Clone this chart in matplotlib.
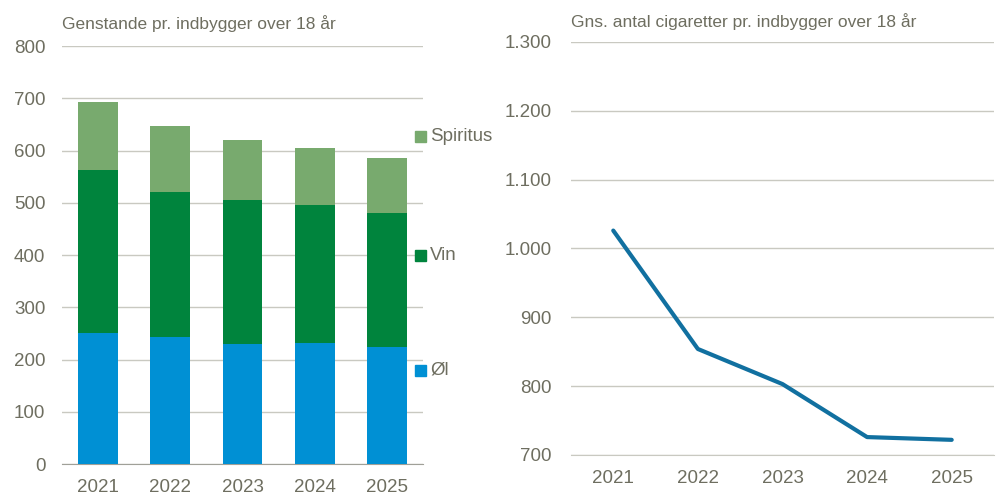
import matplotlib
matplotlib.use("Agg")
import matplotlib.pyplot as plt
from matplotlib.ticker import FuncFormatter, MultipleLocator

plt.rcParams['font.family'] = ['Liberation Sans', 'DejaVu Sans']

years = ["2021", "2022", "2023", "2024", "2025"]
ol = [251, 243, 230, 232, 224]
vin = [312, 278, 275, 264, 256]
spiritus = [129, 126, 115, 109, 106]
cigaretter = [1026, 854, 803, 726, 722]

TXT = '#6e6e60'
GRID = '#c9c9c1'
C_OL = '#0090d4'
C_VIN = '#00843d'
C_SPI = '#78aa6e'
C_LINE = '#1170a0'

TICK_FS = 13.5
TITLE_FS = 12.5

fig = plt.figure(figsize=(9.98, 4.96), dpi=100)

# Left chart
ax1 = fig.add_axes([0.0621, 0.0645, 0.3617, 0.8427])
x = range(len(years))
w = 0.55
ax1.bar(x, ol, width=w, color=C_OL, zorder=3)
bottom2 = [a for a in ol]
ax1.bar(x, vin, width=w, bottom=bottom2, color=C_VIN, zorder=3)
bottom3 = [a + b for a, b in zip(ol, vin)]
ax1.bar(x, spiritus, width=w, bottom=bottom3, color=C_SPI, zorder=3)
ax1.set_xlim(-0.5, 4.5)
ax1.set_ylim(0, 800)
ax1.yaxis.set_major_locator(MultipleLocator(100))
ax1.set_xticks(list(x))
ax1.set_xticklabels(years)
ax1.grid(axis='y', color=GRID, linewidth=1, zorder=0)
for s in ['top', 'right', 'left']:
    ax1.spines[s].set_visible(False)
ax1.spines['bottom'].set_color('#a0a098')
ax1.tick_params(axis='both', length=0, labelsize=TICK_FS, colors=TXT)
ax1.tick_params(axis='y', pad=12)
ax1.tick_params(axis='x', pad=10.5)
fig.text(0.0621, 0.952, "Genstande pr. indbygger over 18 år", fontsize=TITLE_FS,
         color=TXT, ha='left', va='center')

# legend entries
leg = [("Spiritus", C_SPI, 137), ("Vin", C_VIN, 255), ("Øl", C_OL, 370)]
for label, col, ypx in leg:
    yf = 1 - ypx / 496
    fig.patches.append(plt.Rectangle((415 / 998, yf - 5.5 / 496), 11 / 998, 11 / 496,
                                     transform=fig.transFigure, color=col, figure=fig))
    fig.text(430 / 998, yf, label, fontsize=TICK_FS, color=TXT, ha='left', va='center')

# Right chart
ax2 = fig.add_axes([0.5721, 0.0827, 0.4239, 0.8327])
ax2.plot(list(x), cigaretter, color=C_LINE, linewidth=3, solid_capstyle='round', zorder=3)
ax2.set_xlim(-0.5, 4.5)
ax2.set_ylim(700, 1300)
ax2.yaxis.set_major_locator(MultipleLocator(100))
ax2.yaxis.set_major_formatter(FuncFormatter(lambda v, p: f"{int(v):,}".replace(",", ".")))
ax2.set_xticks(list(x))
ax2.set_xticklabels(years)
ax2.grid(axis='y', color=GRID, linewidth=1, zorder=0)
for s in ['top', 'right', 'left']:
    ax2.spines[s].set_visible(False)
ax2.spines['bottom'].set_color(GRID)
ax2.tick_params(axis='both', length=0, labelsize=TICK_FS, colors=TXT)
ax2.tick_params(axis='y', pad=14)
ax2.tick_params(axis='x', pad=11)
fig.text(0.5721, 0.957, "Gns. antal cigaretter pr. indbygger over 18 år", fontsize=TITLE_FS,
         color=TXT, ha='left', va='center')

fig.savefig("out.png", dpi=100, facecolor='white')
